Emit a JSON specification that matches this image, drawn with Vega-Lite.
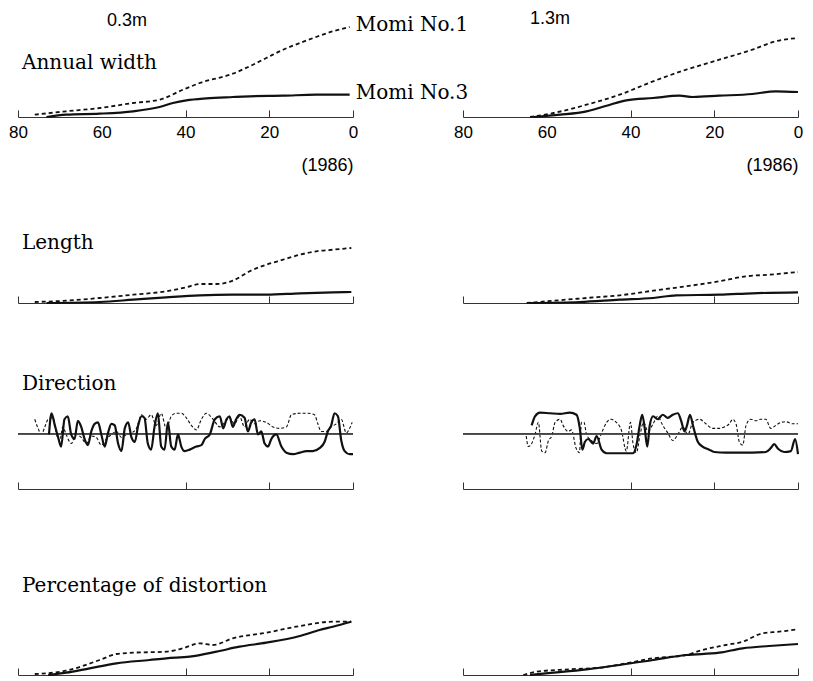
{
  "$schema": "https://vega.github.io/schema/vega-lite/v6.json",
  "background": "white",
  "padding": {"left": 8, "top": 10, "right": 5, "bottom": 2},
  "config": {"view": {"stroke": null}, "font": "Liberation Sans"},
  "title": {"text": "0.3m", "anchor": "start", "frame": "group", "dx": 89, "offset": -29, "baseline": "middle", "font": "Liberation Sans", "fontSize": 18, "fontWeight": "normal", "color": "black"},
  "datasets": {
    "d": [
      {"p":"A0","s":"Momi No.1","yr":76.0,"v":2.3},{"p":"A0","s":"Momi No.1","yr":68.5,"v":5.7},{"p":"A0","s":"Momi No.1","yr":60.5,"v":9},{"p":"A0","s":"Momi No.1","yr":52.5,"v":14},{"p":"A0","s":"Momi No.1","yr":46.2,"v":17.3},{"p":"A0","s":"Momi No.1","yr":40.6,"v":27.3},{"p":"A0","s":"Momi No.1","yr":36.6,"v":34},{"p":"A0","s":"Momi No.1","yr":28.7,"v":43.3},{"p":"A0","s":"Momi No.1","yr":24.7,"v":50.7},{"p":"A0","s":"Momi No.1","yr":20.7,"v":59},{"p":"A0","s":"Momi No.1","yr":16.7,"v":67.3},{"p":"A0","s":"Momi No.1","yr":12.7,"v":74},{"p":"A0","s":"Momi No.1","yr":8.8,"v":80},{"p":"A0","s":"Momi No.1","yr":4.8,"v":85.7},{"p":"A0","s":"Momi No.1","yr":0.8,"v":90},
      {"p":"A0","s":"Momi No.3","yr":73.2,"v":0},{"p":"A0","s":"Momi No.3","yr":68.5,"v":2.3},{"p":"A0","s":"Momi No.3","yr":60.5,"v":3.3},{"p":"A0","s":"Momi No.3","yr":52.5,"v":5.7},{"p":"A0","s":"Momi No.3","yr":46.2,"v":10},{"p":"A0","s":"Momi No.3","yr":43.0,"v":14},{"p":"A0","s":"Momi No.3","yr":39.8,"v":16.7},{"p":"A0","s":"Momi No.3","yr":35.0,"v":18.7},{"p":"A0","s":"Momi No.3","yr":28.7,"v":20},{"p":"A0","s":"Momi No.3","yr":24.7,"v":20.7},{"p":"A0","s":"Momi No.3","yr":16.7,"v":21.3},{"p":"A0","s":"Momi No.3","yr":8.8,"v":22.3},{"p":"A0","s":"Momi No.3","yr":0.8,"v":22.3},
      {"p":"A1","s":"Momi No.1","yr":64.0,"v":0},{"p":"A1","s":"Momi No.1","yr":58.4,"v":4},{"p":"A1","s":"Momi No.1","yr":50.5,"v":12.3},{"p":"A1","s":"Momi No.1","yr":42.6,"v":22.3},{"p":"A1","s":"Momi No.1","yr":34.6,"v":35.7},{"p":"A1","s":"Momi No.1","yr":26.7,"v":47.3},{"p":"A1","s":"Momi No.1","yr":18.8,"v":57.3},{"p":"A1","s":"Momi No.1","yr":10.9,"v":67.3},{"p":"A1","s":"Momi No.1","yr":5.3,"v":75.7},{"p":"A1","s":"Momi No.1","yr":0,"v":79},
      {"p":"A1","s":"Momi No.3","yr":63.2,"v":0},{"p":"A1","s":"Momi No.3","yr":56.8,"v":2.3},{"p":"A1","s":"Momi No.3","yr":50.5,"v":5.7},{"p":"A1","s":"Momi No.3","yr":45.7,"v":11.3},{"p":"A1","s":"Momi No.3","yr":41.0,"v":16.7},{"p":"A1","s":"Momi No.3","yr":34.6,"v":19},{"p":"A1","s":"Momi No.3","yr":28.3,"v":21.3},{"p":"A1","s":"Momi No.3","yr":25.1,"v":20},{"p":"A1","s":"Momi No.3","yr":18.8,"v":21.3},{"p":"A1","s":"Momi No.3","yr":10.9,"v":23},{"p":"A1","s":"Momi No.3","yr":5.3,"v":25.7},{"p":"A1","s":"Momi No.3","yr":0,"v":25},
      {"p":"L0","s":"Momi No.1","yr":76.0,"v":1},{"p":"L0","s":"Momi No.1","yr":68.5,"v":2.3},{"p":"L0","s":"Momi No.1","yr":60.5,"v":5},{"p":"L0","s":"Momi No.1","yr":52.5,"v":8.3},{"p":"L0","s":"Momi No.1","yr":44.6,"v":11.7},{"p":"L0","s":"Momi No.1","yr":39.8,"v":15.7},{"p":"L0","s":"Momi No.1","yr":36.6,"v":19},{"p":"L0","s":"Momi No.1","yr":32.6,"v":19},{"p":"L0","s":"Momi No.1","yr":28.7,"v":22.3},{"p":"L0","s":"Momi No.1","yr":24.7,"v":31.7},{"p":"L0","s":"Momi No.1","yr":20.7,"v":38.3},{"p":"L0","s":"Momi No.1","yr":16.7,"v":43.3},{"p":"L0","s":"Momi No.1","yr":12.7,"v":48.3},{"p":"L0","s":"Momi No.1","yr":8.8,"v":51.7},{"p":"L0","s":"Momi No.1","yr":4.8,"v":53.3},{"p":"L0","s":"Momi No.1","yr":0.4,"v":55},
      {"p":"L0","s":"Momi No.3","yr":73.2,"v":0},{"p":"L0","s":"Momi No.3","yr":60.5,"v":1},{"p":"L0","s":"Momi No.3","yr":52.5,"v":3.3},{"p":"L0","s":"Momi No.3","yr":44.6,"v":5.7},{"p":"L0","s":"Momi No.3","yr":36.6,"v":7.7},{"p":"L0","s":"Momi No.3","yr":28.7,"v":8.3},{"p":"L0","s":"Momi No.3","yr":20.7,"v":8.3},{"p":"L0","s":"Momi No.3","yr":12.7,"v":9.7},{"p":"L0","s":"Momi No.3","yr":4.8,"v":10.7},{"p":"L0","s":"Momi No.3","yr":0.4,"v":11},
      {"p":"L1","s":"Momi No.1","yr":64.8,"v":0},{"p":"L1","s":"Momi No.1","yr":58.4,"v":2.3},{"p":"L1","s":"Momi No.1","yr":50.5,"v":5},{"p":"L1","s":"Momi No.1","yr":42.6,"v":7.7},{"p":"L1","s":"Momi No.1","yr":34.6,"v":12.3},{"p":"L1","s":"Momi No.1","yr":26.7,"v":16.7},{"p":"L1","s":"Momi No.1","yr":18.8,"v":21.7},{"p":"L1","s":"Momi No.1","yr":12.4,"v":26.7},{"p":"L1","s":"Momi No.1","yr":6.9,"v":28.3},{"p":"L1","s":"Momi No.1","yr":0,"v":31},
      {"p":"L1","s":"Momi No.3","yr":64.0,"v":0},{"p":"L1","s":"Momi No.3","yr":52.1,"v":1},{"p":"L1","s":"Momi No.3","yr":42.6,"v":3.3},{"p":"L1","s":"Momi No.3","yr":34.6,"v":5},{"p":"L1","s":"Momi No.3","yr":29.1,"v":7.7},{"p":"L1","s":"Momi No.3","yr":18.8,"v":8.3},{"p":"L1","s":"Momi No.3","yr":10.9,"v":9.7},{"p":"L1","s":"Momi No.3","yr":0,"v":10.7},
      {"p":"D0","s":"Momi No.3","yr":72.6,"v":0},{"p":"D0","s":"Momi No.3","yr":72.0,"v":23.3},{"p":"D0","s":"Momi No.3","yr":71.2,"v":10},{"p":"D0","s":"Momi No.3","yr":70.4,"v":-3.3},{"p":"D0","s":"Momi No.3","yr":69.7,"v":-13.3},{"p":"D0","s":"Momi No.3","yr":68.9,"v":16.7},{"p":"D0","s":"Momi No.3","yr":68.1,"v":20},{"p":"D0","s":"Momi No.3","yr":67.3,"v":0},{"p":"D0","s":"Momi No.3","yr":66.5,"v":-5},{"p":"D0","s":"Momi No.3","yr":65.7,"v":15},{"p":"D0","s":"Momi No.3","yr":64.9,"v":8.3},{"p":"D0","s":"Momi No.3","yr":64.1,"v":-5},{"p":"D0","s":"Momi No.3","yr":63.3,"v":-11.7},{"p":"D0","s":"Momi No.3","yr":62.5,"v":3.3},{"p":"D0","s":"Momi No.3","yr":61.7,"v":11.7},{"p":"D0","s":"Momi No.3","yr":60.9,"v":13.3},{"p":"D0","s":"Momi No.3","yr":60.1,"v":0},{"p":"D0","s":"Momi No.3","yr":59.3,"v":-13.3},{"p":"D0","s":"Momi No.3","yr":58.5,"v":1.7},{"p":"D0","s":"Momi No.3","yr":57.7,"v":11.7},{"p":"D0","s":"Momi No.3","yr":56.9,"v":10},{"p":"D0","s":"Momi No.3","yr":56.1,"v":-10},{"p":"D0","s":"Momi No.3","yr":55.3,"v":-18.3},{"p":"D0","s":"Momi No.3","yr":54.5,"v":6.7},{"p":"D0","s":"Momi No.3","yr":53.7,"v":13.3},{"p":"D0","s":"Momi No.3","yr":52.9,"v":-3.3},{"p":"D0","s":"Momi No.3","yr":52.1,"v":-8.3},{"p":"D0","s":"Momi No.3","yr":51.3,"v":10},{"p":"D0","s":"Momi No.3","yr":50.5,"v":20},{"p":"D0","s":"Momi No.3","yr":49.8,"v":18.3},{"p":"D0","s":"Momi No.3","yr":49.0,"v":-10},{"p":"D0","s":"Momi No.3","yr":48.2,"v":-16.7},{"p":"D0","s":"Momi No.3","yr":47.4,"v":8.3},{"p":"D0","s":"Momi No.3","yr":46.6,"v":23.3},{"p":"D0","s":"Momi No.3","yr":45.8,"v":-13.3},{"p":"D0","s":"Momi No.3","yr":45.0,"v":-16.7},{"p":"D0","s":"Momi No.3","yr":44.2,"v":13.3},{"p":"D0","s":"Momi No.3","yr":43.4,"v":-13.3},{"p":"D0","s":"Momi No.3","yr":42.6,"v":-16.7},{"p":"D0","s":"Momi No.3","yr":41.8,"v":0},{"p":"D0","s":"Momi No.3","yr":41.0,"v":-13.3},{"p":"D0","s":"Momi No.3","yr":40.2,"v":-18.3},{"p":"D0","s":"Momi No.3","yr":39.0,"v":-16.7},{"p":"D0","s":"Momi No.3","yr":37.4,"v":-13.3},{"p":"D0","s":"Momi No.3","yr":36.2,"v":-11.7},{"p":"D0","s":"Momi No.3","yr":35.4,"v":-5},{"p":"D0","s":"Momi No.3","yr":34.2,"v":0},{"p":"D0","s":"Momi No.3","yr":33.0,"v":16.7},{"p":"D0","s":"Momi No.3","yr":31.8,"v":20},{"p":"D0","s":"Momi No.3","yr":31.0,"v":6.7},{"p":"D0","s":"Momi No.3","yr":30.2,"v":16.7},{"p":"D0","s":"Momi No.3","yr":29.5,"v":20},{"p":"D0","s":"Momi No.3","yr":28.7,"v":8.3},{"p":"D0","s":"Momi No.3","yr":27.9,"v":16.7},{"p":"D0","s":"Momi No.3","yr":27.1,"v":21.7},{"p":"D0","s":"Momi No.3","yr":25.9,"v":18.3},{"p":"D0","s":"Momi No.3","yr":25.1,"v":3.3},{"p":"D0","s":"Momi No.3","yr":24.3,"v":13.3},{"p":"D0","s":"Momi No.3","yr":23.5,"v":16.7},{"p":"D0","s":"Momi No.3","yr":22.7,"v":0},{"p":"D0","s":"Momi No.3","yr":21.9,"v":3.3},{"p":"D0","s":"Momi No.3","yr":21.1,"v":-10},{"p":"D0","s":"Momi No.3","yr":20.3,"v":-13.3},{"p":"D0","s":"Momi No.3","yr":19.5,"v":-5},{"p":"D0","s":"Momi No.3","yr":18.3,"v":0},{"p":"D0","s":"Momi No.3","yr":17.1,"v":-13.3},{"p":"D0","s":"Momi No.3","yr":15.9,"v":-20},{"p":"D0","s":"Momi No.3","yr":14.3,"v":-21.7},{"p":"D0","s":"Momi No.3","yr":12.7,"v":-20},{"p":"D0","s":"Momi No.3","yr":11.1,"v":-18.3},{"p":"D0","s":"Momi No.3","yr":9.6,"v":-18.3},{"p":"D0","s":"Momi No.3","yr":8.0,"v":-15},{"p":"D0","s":"Momi No.3","yr":6.8,"v":-8.3},{"p":"D0","s":"Momi No.3","yr":6.0,"v":3.3},{"p":"D0","s":"Momi No.3","yr":5.2,"v":10},{"p":"D0","s":"Momi No.3","yr":4.4,"v":23.3},{"p":"D0","s":"Momi No.3","yr":3.6,"v":20},{"p":"D0","s":"Momi No.3","yr":2.8,"v":-6.7},{"p":"D0","s":"Momi No.3","yr":2.0,"v":-18.3},{"p":"D0","s":"Momi No.3","yr":0.8,"v":-21.7},{"p":"D0","s":"Momi No.3","yr":0,"v":-21.7},
      {"p":"D0","s":"Momi No.1","yr":76.0,"v":16.7},{"p":"D0","s":"Momi No.1","yr":75.2,"v":6.7},{"p":"D0","s":"Momi No.1","yr":74.4,"v":0},{"p":"D0","s":"Momi No.1","yr":73.6,"v":8.3},{"p":"D0","s":"Momi No.1","yr":72.8,"v":16.7},{"p":"D0","s":"Momi No.1","yr":71.6,"v":18.3},{"p":"D0","s":"Momi No.1","yr":70.8,"v":0},{"p":"D0","s":"Momi No.1","yr":70.0,"v":-6.7},{"p":"D0","s":"Momi No.1","yr":69.3,"v":8.3},{"p":"D0","s":"Momi No.1","yr":68.5,"v":0},{"p":"D0","s":"Momi No.1","yr":67.3,"v":-10},{"p":"D0","s":"Momi No.1","yr":66.1,"v":0},{"p":"D0","s":"Momi No.1","yr":64.9,"v":-3.3},{"p":"D0","s":"Momi No.1","yr":63.7,"v":-10},{"p":"D0","s":"Momi No.1","yr":62.5,"v":-1.7},{"p":"D0","s":"Momi No.1","yr":61.3,"v":-3.3},{"p":"D0","s":"Momi No.1","yr":60.1,"v":-11.7},{"p":"D0","s":"Momi No.1","yr":58.9,"v":-5},{"p":"D0","s":"Momi No.1","yr":57.7,"v":0},{"p":"D0","s":"Momi No.1","yr":56.5,"v":3.3},{"p":"D0","s":"Momi No.1","yr":55.3,"v":-3.3},{"p":"D0","s":"Momi No.1","yr":54.1,"v":0},{"p":"D0","s":"Momi No.1","yr":52.9,"v":1.7},{"p":"D0","s":"Momi No.1","yr":51.7,"v":6.7},{"p":"D0","s":"Momi No.1","yr":50.5,"v":21.7},{"p":"D0","s":"Momi No.1","yr":49.4,"v":16.7},{"p":"D0","s":"Momi No.1","yr":48.2,"v":21.7},{"p":"D0","s":"Momi No.1","yr":47.0,"v":10},{"p":"D0","s":"Momi No.1","yr":45.8,"v":23.3},{"p":"D0","s":"Momi No.1","yr":44.6,"v":6.7},{"p":"D0","s":"Momi No.1","yr":43.4,"v":20},{"p":"D0","s":"Momi No.1","yr":42.2,"v":23.3},{"p":"D0","s":"Momi No.1","yr":41.0,"v":23.3},{"p":"D0","s":"Momi No.1","yr":39.8,"v":18.3},{"p":"D0","s":"Momi No.1","yr":38.6,"v":10},{"p":"D0","s":"Momi No.1","yr":37.4,"v":5},{"p":"D0","s":"Momi No.1","yr":36.2,"v":16.7},{"p":"D0","s":"Momi No.1","yr":35.0,"v":23.3},{"p":"D0","s":"Momi No.1","yr":33.4,"v":16.7},{"p":"D0","s":"Momi No.1","yr":31.8,"v":8.3},{"p":"D0","s":"Momi No.1","yr":30.6,"v":13.3},{"p":"D0","s":"Momi No.1","yr":29.5,"v":18.3},{"p":"D0","s":"Momi No.1","yr":28.3,"v":11.7},{"p":"D0","s":"Momi No.1","yr":27.1,"v":20},{"p":"D0","s":"Momi No.1","yr":25.9,"v":8.3},{"p":"D0","s":"Momi No.1","yr":24.7,"v":16.7},{"p":"D0","s":"Momi No.1","yr":23.5,"v":11.7},{"p":"D0","s":"Momi No.1","yr":22.3,"v":15},{"p":"D0","s":"Momi No.1","yr":20.7,"v":13.3},{"p":"D0","s":"Momi No.1","yr":19.1,"v":8.3},{"p":"D0","s":"Momi No.1","yr":17.5,"v":6.7},{"p":"D0","s":"Momi No.1","yr":15.9,"v":8.3},{"p":"D0","s":"Momi No.1","yr":14.7,"v":21.7},{"p":"D0","s":"Momi No.1","yr":12.7,"v":23.3},{"p":"D0","s":"Momi No.1","yr":10.7,"v":23.3},{"p":"D0","s":"Momi No.1","yr":9.2,"v":21.7},{"p":"D0","s":"Momi No.1","yr":8.4,"v":11.7},{"p":"D0","s":"Momi No.1","yr":7.6,"v":3.3},{"p":"D0","s":"Momi No.1","yr":6.4,"v":3.3},{"p":"D0","s":"Momi No.1","yr":5.2,"v":8.3},{"p":"D0","s":"Momi No.1","yr":4.0,"v":11.7},{"p":"D0","s":"Momi No.1","yr":2.8,"v":16.7},{"p":"D0","s":"Momi No.1","yr":1.6,"v":1.7},{"p":"D0","s":"Momi No.1","yr":0.8,"v":6.7},{"p":"D0","s":"Momi No.1","yr":0.2,"v":13.3},
      {"p":"D1","s":"Momi No.3","yr":63.6,"v":10},{"p":"D1","s":"Momi No.3","yr":62.8,"v":20},{"p":"D1","s":"Momi No.3","yr":61.6,"v":24},{"p":"D1","s":"Momi No.3","yr":59.2,"v":23.3},{"p":"D1","s":"Momi No.3","yr":56.8,"v":22.7},{"p":"D1","s":"Momi No.3","yr":54.5,"v":24},{"p":"D1","s":"Momi No.3","yr":52.9,"v":21.7},{"p":"D1","s":"Momi No.3","yr":52.1,"v":6.7},{"p":"D1","s":"Momi No.3","yr":51.5,"v":-16.7},{"p":"D1","s":"Momi No.3","yr":50.9,"v":-8.3},{"p":"D1","s":"Momi No.3","yr":50.1,"v":-5},{"p":"D1","s":"Momi No.3","yr":48.9,"v":-10},{"p":"D1","s":"Momi No.3","yr":48.1,"v":-1.7},{"p":"D1","s":"Momi No.3","yr":46.9,"v":-16.7},{"p":"D1","s":"Momi No.3","yr":45.7,"v":-20.7},{"p":"D1","s":"Momi No.3","yr":43.4,"v":-20.7},{"p":"D1","s":"Momi No.3","yr":41.0,"v":-20.7},{"p":"D1","s":"Momi No.3","yr":39.4,"v":-20.7},{"p":"D1","s":"Momi No.3","yr":38.5,"v":-10},{"p":"D1","s":"Momi No.3","yr":37.8,"v":10},{"p":"D1","s":"Momi No.3","yr":37.2,"v":21.7},{"p":"D1","s":"Momi No.3","yr":36.6,"v":6.7},{"p":"D1","s":"Momi No.3","yr":36.0,"v":-13.3},{"p":"D1","s":"Momi No.3","yr":35.4,"v":10},{"p":"D1","s":"Momi No.3","yr":34.6,"v":20},{"p":"D1","s":"Momi No.3","yr":33.5,"v":16.7},{"p":"D1","s":"Momi No.3","yr":32.3,"v":21.7},{"p":"D1","s":"Momi No.3","yr":31.1,"v":18.3},{"p":"D1","s":"Momi No.3","yr":29.9,"v":21.7},{"p":"D1","s":"Momi No.3","yr":28.7,"v":23.3},{"p":"D1","s":"Momi No.3","yr":27.9,"v":15},{"p":"D1","s":"Momi No.3","yr":27.1,"v":3.3},{"p":"D1","s":"Momi No.3","yr":26.5,"v":10},{"p":"D1","s":"Momi No.3","yr":25.8,"v":21.7},{"p":"D1","s":"Momi No.3","yr":25.0,"v":8.3},{"p":"D1","s":"Momi No.3","yr":23.9,"v":-8.3},{"p":"D1","s":"Momi No.3","yr":22.8,"v":-13.3},{"p":"D1","s":"Momi No.3","yr":21.2,"v":-16.7},{"p":"D1","s":"Momi No.3","yr":20.0,"v":-19.3},{"p":"D1","s":"Momi No.3","yr":17.2,"v":-20},{"p":"D1","s":"Momi No.3","yr":14.0,"v":-20},{"p":"D1","s":"Momi No.3","yr":10.9,"v":-20},{"p":"D1","s":"Momi No.3","yr":7.7,"v":-19.3},{"p":"D1","s":"Momi No.3","yr":6.5,"v":-15},{"p":"D1","s":"Momi No.3","yr":5.7,"v":-10.7},{"p":"D1","s":"Momi No.3","yr":4.7,"v":-16},{"p":"D1","s":"Momi No.3","yr":3.3,"v":-19.3},{"p":"D1","s":"Momi No.3","yr":1.7,"v":-18.3},{"p":"D1","s":"Momi No.3","yr":0.7,"v":-5},{"p":"D1","s":"Momi No.3","yr":0,"v":-21.7},
      {"p":"D1","s":"Momi No.1","yr":64.9,"v":-1.7},{"p":"D1","s":"Momi No.1","yr":64.4,"v":-13.3},{"p":"D1","s":"Momi No.1","yr":63.6,"v":-10},{"p":"D1","s":"Momi No.1","yr":62.8,"v":0},{"p":"D1","s":"Momi No.1","yr":62.0,"v":13.3},{"p":"D1","s":"Momi No.1","yr":61.2,"v":-18.3},{"p":"D1","s":"Momi No.1","yr":60.4,"v":-20},{"p":"D1","s":"Momi No.1","yr":59.6,"v":-6.7},{"p":"D1","s":"Momi No.1","yr":58.8,"v":-1.7},{"p":"D1","s":"Momi No.1","yr":58.0,"v":13.3},{"p":"D1","s":"Momi No.1","yr":56.8,"v":16.7},{"p":"D1","s":"Momi No.1","yr":56.1,"v":10},{"p":"D1","s":"Momi No.1","yr":54.9,"v":3.3},{"p":"D1","s":"Momi No.1","yr":54.1,"v":5},{"p":"D1","s":"Momi No.1","yr":53.0,"v":-15},{"p":"D1","s":"Momi No.1","yr":52.2,"v":-20},{"p":"D1","s":"Momi No.1","yr":51.7,"v":13.3},{"p":"D1","s":"Momi No.1","yr":51.1,"v":13.3},{"p":"D1","s":"Momi No.1","yr":50.5,"v":0},{"p":"D1","s":"Momi No.1","yr":49.3,"v":-6.7},{"p":"D1","s":"Momi No.1","yr":48.1,"v":-10},{"p":"D1","s":"Momi No.1","yr":46.9,"v":1.7},{"p":"D1","s":"Momi No.1","yr":45.7,"v":13.3},{"p":"D1","s":"Momi No.1","yr":44.6,"v":16.7},{"p":"D1","s":"Momi No.1","yr":43.4,"v":13.3},{"p":"D1","s":"Momi No.1","yr":42.2,"v":5},{"p":"D1","s":"Momi No.1","yr":41.0,"v":-18.3},{"p":"D1","s":"Momi No.1","yr":40.0,"v":13.3},{"p":"D1","s":"Momi No.1","yr":39.4,"v":-10},{"p":"D1","s":"Momi No.1","yr":38.6,"v":-20},{"p":"D1","s":"Momi No.1","yr":37.7,"v":0},{"p":"D1","s":"Momi No.1","yr":36.9,"v":13.3},{"p":"D1","s":"Momi No.1","yr":35.8,"v":3.3},{"p":"D1","s":"Momi No.1","yr":34.6,"v":11.7},{"p":"D1","s":"Momi No.1","yr":33.5,"v":20},{"p":"D1","s":"Momi No.1","yr":32.3,"v":10},{"p":"D1","s":"Momi No.1","yr":31.1,"v":1.7},{"p":"D1","s":"Momi No.1","yr":29.9,"v":-6.7},{"p":"D1","s":"Momi No.1","yr":28.7,"v":0},{"p":"D1","s":"Momi No.1","yr":27.5,"v":8.3},{"p":"D1","s":"Momi No.1","yr":26.3,"v":0},{"p":"D1","s":"Momi No.1","yr":25.1,"v":13.3},{"p":"D1","s":"Momi No.1","yr":23.5,"v":16.7},{"p":"D1","s":"Momi No.1","yr":22.0,"v":11.7},{"p":"D1","s":"Momi No.1","yr":20.4,"v":6.7},{"p":"D1","s":"Momi No.1","yr":18.8,"v":6.7},{"p":"D1","s":"Momi No.1","yr":17.6,"v":8.3},{"p":"D1","s":"Momi No.1","yr":16.4,"v":11.7},{"p":"D1","s":"Momi No.1","yr":15.6,"v":16.7},{"p":"D1","s":"Momi No.1","yr":14.8,"v":11.7},{"p":"D1","s":"Momi No.1","yr":14.0,"v":-8.3},{"p":"D1","s":"Momi No.1","yr":13.2,"v":-11.7},{"p":"D1","s":"Momi No.1","yr":12.4,"v":10},{"p":"D1","s":"Momi No.1","yr":11.3,"v":16.7},{"p":"D1","s":"Momi No.1","yr":10.1,"v":15},{"p":"D1","s":"Momi No.1","yr":8.9,"v":16.7},{"p":"D1","s":"Momi No.1","yr":7.7,"v":16.7},{"p":"D1","s":"Momi No.1","yr":6.5,"v":6.7},{"p":"D1","s":"Momi No.1","yr":5.3,"v":10},{"p":"D1","s":"Momi No.1","yr":4.1,"v":13.3},{"p":"D1","s":"Momi No.1","yr":2.9,"v":14},{"p":"D1","s":"Momi No.1","yr":1.3,"v":11.7},{"p":"D1","s":"Momi No.1","yr":0,"v":11.7},
      {"p":"P0","s":"Momi No.1","yr":76.0,"v":1},{"p":"P0","s":"Momi No.1","yr":68.5,"v":4.3},{"p":"P0","s":"Momi No.1","yr":60.5,"v":15},{"p":"P0","s":"Momi No.1","yr":56.5,"v":21},{"p":"P0","s":"Momi No.1","yr":52.5,"v":22.3},{"p":"P0","s":"Momi No.1","yr":44.6,"v":23.3},{"p":"P0","s":"Momi No.1","yr":40.6,"v":26.7},{"p":"P0","s":"Momi No.1","yr":36.6,"v":31.7},{"p":"P0","s":"Momi No.1","yr":33.5,"v":30},{"p":"P0","s":"Momi No.1","yr":28.7,"v":36.7},{"p":"P0","s":"Momi No.1","yr":20.7,"v":42.3},{"p":"P0","s":"Momi No.1","yr":12.7,"v":49},{"p":"P0","s":"Momi No.1","yr":4.8,"v":53.3},{"p":"P0","s":"Momi No.1","yr":0.4,"v":53.3},
      {"p":"P0","s":"Momi No.3","yr":72.8,"v":0},{"p":"P0","s":"Momi No.3","yr":68.5,"v":2.3},{"p":"P0","s":"Momi No.3","yr":62.9,"v":6.7},{"p":"P0","s":"Momi No.3","yr":56.5,"v":11.7},{"p":"P0","s":"Momi No.3","yr":48.6,"v":15},{"p":"P0","s":"Momi No.3","yr":44.6,"v":16.7},{"p":"P0","s":"Momi No.3","yr":39.0,"v":18.3},{"p":"P0","s":"Momi No.3","yr":32.6,"v":23.3},{"p":"P0","s":"Momi No.3","yr":27.1,"v":28.3},{"p":"P0","s":"Momi No.3","yr":20.7,"v":32.3},{"p":"P0","s":"Momi No.3","yr":12.7,"v":39},{"p":"P0","s":"Momi No.3","yr":8.0,"v":45},{"p":"P0","s":"Momi No.3","yr":4.8,"v":48.3},{"p":"P0","s":"Momi No.3","yr":0.4,"v":53.3},
      {"p":"P1","s":"Momi No.1","yr":65.6,"v":0},{"p":"P1","s":"Momi No.1","yr":62.4,"v":3.3},{"p":"P1","s":"Momi No.1","yr":54.5,"v":5.7},{"p":"P1","s":"Momi No.1","yr":46.5,"v":7.7},{"p":"P1","s":"Momi No.1","yr":41.0,"v":11.7},{"p":"P1","s":"Momi No.1","yr":34.6,"v":16.7},{"p":"P1","s":"Momi No.1","yr":26.7,"v":20},{"p":"P1","s":"Momi No.1","yr":22.8,"v":25},{"p":"P1","s":"Momi No.1","yr":17.2,"v":30},{"p":"P1","s":"Momi No.1","yr":13.2,"v":33.3},{"p":"P1","s":"Momi No.1","yr":8.5,"v":41.7},{"p":"P1","s":"Momi No.1","yr":4.5,"v":43.3},{"p":"P1","s":"Momi No.1","yr":0,"v":45.7},
      {"p":"P1","s":"Momi No.3","yr":64.0,"v":0},{"p":"P1","s":"Momi No.3","yr":58.4,"v":2.3},{"p":"P1","s":"Momi No.3","yr":50.5,"v":5.7},{"p":"P1","s":"Momi No.3","yr":42.6,"v":10},{"p":"P1","s":"Momi No.3","yr":34.6,"v":15},{"p":"P1","s":"Momi No.3","yr":26.7,"v":20},{"p":"P1","s":"Momi No.3","yr":18.8,"v":22.3},{"p":"P1","s":"Momi No.3","yr":13.2,"v":26.7},{"p":"P1","s":"Momi No.3","yr":6.9,"v":29},{"p":"P1","s":"Momi No.3","yr":0,"v":31}
    ]
  },
  "columns": 2,
  "spacing": {"row": 86, "column": 110},
  "bounds": "flush",
  "concat": [
    {
      "width": 335, "height": 100,
      "title": {"text": "Annual width", "anchor": "start", "frame": "group", "dx": 4, "offset": -68, "baseline": "middle", "font": "DejaVu Serif", "fontSize": 20, "fontWeight": "normal", "color": "black"},
      "data": {"name": "d"},
      "transform": [{"filter": "datum.p == 'A0'"}],
      "resolve": {"axis": {"x": "independent"}},
      "layer": [
        {
          "transform": [{"filter": "datum.s == 'Momi No.1'"}],
          "mark": {"type": "line", "interpolate": "monotone", "color": "#111", "strokeDash": [4, 3], "strokeWidth": 1.8},
          "encoding": {
            "x": {"field": "yr", "type": "quantitative", "scale": {"domain": [80, 0], "nice": false},
              "axis": {"orient": "bottom", "values": [80, 40, 20, 0], "labels": false, "title": null, "tickSize": -7, "tickColor": "#333", "tickWidth": 1, "domainColor": "#333", "domainWidth": 1, "grid": false}},
            "y": {"field": "v", "type": "quantitative", "scale": {"domain": [0, 100]}, "axis": null}
          }
        },
        {
          "transform": [{"filter": "datum.s == 'Momi No.3'"}],
          "mark": {"type": "line", "interpolate": "monotone", "color": "#111", "strokeWidth": 2.2},
          "encoding": {
            "x": {"field": "yr", "type": "quantitative", "axis": null},
            "y": {"field": "v", "type": "quantitative"}
          }
        },
        {
          "transform": [{"filter": "datum.yr < 1"}],
          "mark": {"type": "text", "align": "left", "baseline": "middle", "dx": 6, "dy": -2, "font": "DejaVu Serif", "fontSize": 20, "color": "black"},
          "encoding": {
            "x": {"field": "yr", "type": "quantitative",
              "axis": {"orient": "bottom", "values": [80, 60, 40, 20, 0], "ticks": false, "tickSize": 0, "domain": false, "title": "(1986)", "titleAnchor": "end", "titleAlign": "right", "titleFont": "Liberation Sans", "titleFontSize": 18, "titleFontWeight": "normal", "titleColor": "black", "titlePadding": 16, "labelFont": "Liberation Sans", "labelFontSize": 17, "labelColor": "black", "labelPadding": 7, "labelAngle": 0, "labelOverlap": false, "labelFlush": false, "grid": false}},
            "y": {"field": "v", "type": "quantitative"},
            "text": {"field": "s", "type": "nominal"}
          }
        }
      ]
    },
    {
      "width": 335, "height": 100,
      "title": {"text": "1.3m", "anchor": "start", "frame": "group", "dx": 67, "offset": -20, "baseline": "middle", "font": "Liberation Sans", "fontSize": 18, "fontWeight": "normal", "color": "black"},
      "data": {"name": "d"},
      "transform": [{"filter": "datum.p == 'A1'"}],
      "resolve": {"axis": {"x": "independent"}},
      "layer": [
        {
          "transform": [{"filter": "datum.s == 'Momi No.1'"}],
          "mark": {"type": "line", "interpolate": "monotone", "color": "#111", "strokeDash": [4, 3], "strokeWidth": 1.8},
          "encoding": {
            "x": {"field": "yr", "type": "quantitative", "scale": {"domain": [80, 0], "nice": false},
              "axis": {"orient": "bottom", "values": [80, 40, 20, 0], "labels": false, "title": null, "tickSize": -7, "tickColor": "#333", "tickWidth": 1, "domainColor": "#333", "domainWidth": 1, "grid": false}},
            "y": {"field": "v", "type": "quantitative", "scale": {"domain": [0, 100]}, "axis": null}
          }
        },
        {
          "transform": [{"filter": "datum.s == 'Momi No.3'"}],
          "mark": {"type": "line", "interpolate": "monotone", "color": "#111", "strokeWidth": 2.2},
          "encoding": {
            "x": {"field": "yr", "type": "quantitative",
              "axis": {"orient": "bottom", "values": [80, 60, 40, 20, 0], "ticks": false, "tickSize": 0, "domain": false, "title": "(1986)", "titleAnchor": "end", "titleAlign": "right", "titleFont": "Liberation Sans", "titleFontSize": 18, "titleFontWeight": "normal", "titleColor": "black", "titlePadding": 16, "labelFont": "Liberation Sans", "labelFontSize": 17, "labelColor": "black", "labelPadding": 7, "labelAngle": 0, "labelOverlap": false, "labelFlush": false, "grid": false}},
            "y": {"field": "v", "type": "quantitative"}
          }
        }
      ]
    },
    {
      "width": 335, "height": 100,
      "title": {"text": "Length", "anchor": "start", "frame": "group", "dx": 4, "offset": -60, "baseline": "middle", "font": "DejaVu Serif", "fontSize": 20, "fontWeight": "normal", "color": "black"},
      "data": {"name": "d"},
      "transform": [{"filter": "datum.p == 'L0'"}],
      "layer": [
        {
          "transform": [{"filter": "datum.s == 'Momi No.1'"}],
          "mark": {"type": "line", "interpolate": "monotone", "color": "#111", "strokeDash": [4, 3], "strokeWidth": 1.8},
          "encoding": {
            "x": {"field": "yr", "type": "quantitative", "scale": {"domain": [80, 0], "nice": false},
              "axis": {"values": [80, 20, 0], "labels": false, "title": null, "tickSize": -7, "tickColor": "#333", "tickWidth": 1, "domainColor": "#333", "domainWidth": 1, "grid": false}},
            "y": {"field": "v", "type": "quantitative", "scale": {"domain": [0, 100]}, "axis": null}
          }
        },
        {
          "transform": [{"filter": "datum.s == 'Momi No.3'"}],
          "mark": {"type": "line", "interpolate": "monotone", "color": "#111", "strokeWidth": 2.2},
          "encoding": {
            "x": {"field": "yr", "type": "quantitative"},
            "y": {"field": "v", "type": "quantitative"}
          }
        }
      ]
    },
    {
      "width": 335, "height": 100,
      "data": {"name": "d"},
      "transform": [{"filter": "datum.p == 'L1'"}],
      "layer": [
        {
          "transform": [{"filter": "datum.s == 'Momi No.1'"}],
          "mark": {"type": "line", "interpolate": "monotone", "color": "#111", "strokeDash": [4, 3], "strokeWidth": 1.8},
          "encoding": {
            "x": {"field": "yr", "type": "quantitative", "scale": {"domain": [80, 0], "nice": false},
              "axis": {"values": [80, 20, 0], "labels": false, "title": null, "tickSize": -7, "tickColor": "#333", "tickWidth": 1, "domainColor": "#333", "domainWidth": 1, "grid": false}},
            "y": {"field": "v", "type": "quantitative", "scale": {"domain": [0, 100]}, "axis": null}
          }
        },
        {
          "transform": [{"filter": "datum.s == 'Momi No.3'"}],
          "mark": {"type": "line", "interpolate": "monotone", "color": "#111", "strokeWidth": 2.2},
          "encoding": {
            "x": {"field": "yr", "type": "quantitative"},
            "y": {"field": "v", "type": "quantitative"}
          }
        }
      ]
    },
    {
      "width": 335, "height": 100,
      "title": {"text": "Direction", "anchor": "start", "frame": "group", "dx": 4, "offset": -15, "baseline": "middle", "font": "DejaVu Serif", "fontSize": 20, "fontWeight": "normal", "color": "black"},
      "data": {"name": "d"},
      "transform": [{"filter": "datum.p == 'D0'"}],
      "layer": [
        {
          "transform": [{"filter": "datum.s == 'Momi No.1'"}],
          "mark": {"type": "line", "interpolate": "monotone", "color": "#111", "strokeDash": [3, 2], "strokeWidth": 1.1},
          "encoding": {
            "x": {"field": "yr", "type": "quantitative", "scale": {"domain": [80, 0], "nice": false},
              "axis": {"values": [80, 40, 20, 0], "labels": false, "title": null, "tickSize": -7, "tickColor": "#333", "tickWidth": 1, "domainColor": "#333", "domainWidth": 1, "grid": false}},
            "y": {"field": "v", "type": "quantitative", "scale": {"domain": [-51, 49]}, "axis": null}
          }
        },
        {
          "mark": {"type": "rule", "color": "#555", "strokeWidth": 1},
          "encoding": {"y": {"datum": 0, "type": "quantitative"}}
        },
        {
          "transform": [{"filter": "datum.s == 'Momi No.3'"}],
          "mark": {"type": "line", "interpolate": "monotone", "color": "#111", "strokeWidth": 2.2},
          "encoding": {
            "x": {"field": "yr", "type": "quantitative"},
            "y": {"field": "v", "type": "quantitative"}
          }
        }
      ]
    },
    {
      "width": 335, "height": 100,
      "data": {"name": "d"},
      "transform": [{"filter": "datum.p == 'D1'"}],
      "layer": [
        {
          "transform": [{"filter": "datum.s == 'Momi No.1'"}],
          "mark": {"type": "line", "interpolate": "monotone", "color": "#111", "strokeDash": [3, 2], "strokeWidth": 1.1},
          "encoding": {
            "x": {"field": "yr", "type": "quantitative", "scale": {"domain": [80, 0], "nice": false},
              "axis": {"values": [80, 40, 20, 0], "labels": false, "title": null, "tickSize": -7, "tickColor": "#333", "tickWidth": 1, "domainColor": "#333", "domainWidth": 1, "grid": false}},
            "y": {"field": "v", "type": "quantitative", "scale": {"domain": [-51, 49]}, "axis": null}
          }
        },
        {
          "mark": {"type": "rule", "color": "#555", "strokeWidth": 1},
          "encoding": {"y": {"datum": 0, "type": "quantitative"}}
        },
        {
          "transform": [{"filter": "datum.s == 'Momi No.3'"}],
          "mark": {"type": "line", "interpolate": "monotone", "color": "#111", "strokeWidth": 2.2},
          "encoding": {
            "x": {"field": "yr", "type": "quantitative"},
            "y": {"field": "v", "type": "quantitative"}
          }
        }
      ]
    },
    {
      "width": 335, "height": 100,
      "title": {"text": "Percentage of distortion", "anchor": "start", "frame": "group", "dx": 4, "offset": -31, "baseline": "middle", "font": "DejaVu Serif", "fontSize": 20, "fontWeight": "normal", "color": "black"},
      "data": {"name": "d"},
      "transform": [{"filter": "datum.p == 'P0'"}],
      "layer": [
        {
          "transform": [{"filter": "datum.s == 'Momi No.1'"}],
          "mark": {"type": "line", "interpolate": "monotone", "color": "#111", "strokeDash": [4, 3], "strokeWidth": 1.8},
          "encoding": {
            "x": {"field": "yr", "type": "quantitative", "scale": {"domain": [80, 0], "nice": false},
              "axis": {"values": [80, 40, 20, 0], "labels": false, "title": null, "tickSize": -7, "tickColor": "#333", "tickWidth": 1, "domainColor": "#333", "domainWidth": 1, "grid": false}},
            "y": {"field": "v", "type": "quantitative", "scale": {"domain": [0, 100]}, "axis": null}
          }
        },
        {
          "transform": [{"filter": "datum.s == 'Momi No.3'"}],
          "mark": {"type": "line", "interpolate": "monotone", "color": "#111", "strokeWidth": 2.2},
          "encoding": {
            "x": {"field": "yr", "type": "quantitative"},
            "y": {"field": "v", "type": "quantitative"}
          }
        }
      ]
    },
    {
      "width": 335, "height": 100,
      "data": {"name": "d"},
      "transform": [{"filter": "datum.p == 'P1'"}],
      "layer": [
        {
          "transform": [{"filter": "datum.s == 'Momi No.1'"}],
          "mark": {"type": "line", "interpolate": "monotone", "color": "#111", "strokeDash": [4, 3], "strokeWidth": 1.8},
          "encoding": {
            "x": {"field": "yr", "type": "quantitative", "scale": {"domain": [80, 0], "nice": false},
              "axis": {"values": [80, 40, 20, 0], "labels": false, "title": null, "tickSize": -7, "tickColor": "#333", "tickWidth": 1, "domainColor": "#333", "domainWidth": 1, "grid": false}},
            "y": {"field": "v", "type": "quantitative", "scale": {"domain": [0, 100]}, "axis": null}
          }
        },
        {
          "transform": [{"filter": "datum.s == 'Momi No.3'"}],
          "mark": {"type": "line", "interpolate": "monotone", "color": "#111", "strokeWidth": 2.2},
          "encoding": {
            "x": {"field": "yr", "type": "quantitative"},
            "y": {"field": "v", "type": "quantitative"}
          }
        }
      ]
    }
  ]
}
